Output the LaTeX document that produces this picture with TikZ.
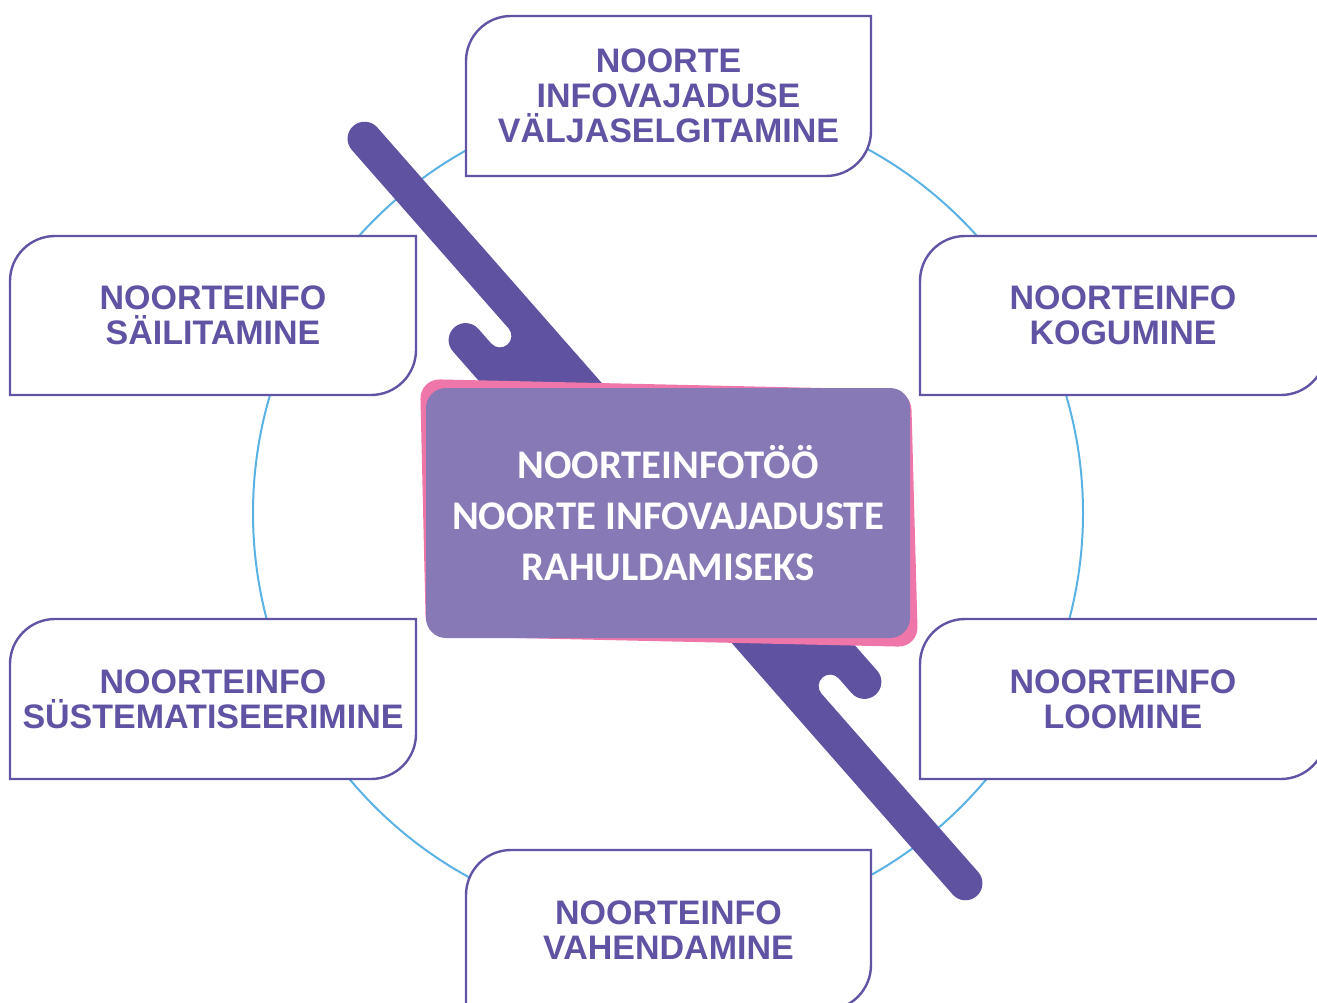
\documentclass[tikz,border=0pt]{standalone}
\usepackage{fontspec}
\setmainfont{Liberation Sans}
\newfontfamily\calibfont{Carlito}
\definecolor{bandcol}{RGB}{95,82,160}
\definecolor{boxcol}{RGB}{98,84,164}
\definecolor{txtcol}{RGB}{96,83,163}
\definecolor{centerfill}{RGB}{134,121,181}
\definecolor{pinkcol}{RGB}{238,118,168}
\definecolor{ringcol}{RGB}{90,178,228}
\tikzset{
  leaf/.style={draw=boxcol, line width=2.4pt, fill=white},
  leaftext/.style={text=txtcol, font=\fontsize{34}{35}\selectfont\bfseries, align=center, inner sep=0pt},
  ring/.style={draw=ringcol, line width=2pt},
  centerbox/.style={fill=centerfill, rounded corners=20pt, minimum width=484pt, minimum height=250pt,
     text=white, align=center, inner sep=0pt, font=\calibfont\bfseries\fontsize{40.7}{51}\selectfont},
}
\newcommand\leafbox[6]{%
  \draw[leaf] (#1,#4) -- (#1,{#2+45}) .. controls (#1,{#2+20.15}) and ({#1+20.15},#2) .. ({#1+45},#2)
     -- (#3,#2) -- (#3,{#4-45}) .. controls (#3,{#4-20.15}) and ({#3-20.15},#4) .. ({#3-45},#4) -- cycle;
  \node[leaftext] (#6) at ({(#1+#3)/2},{(#2+#4)/2}) {#5};
}
\begin{document}
\begin{tikzpicture}[x=1pt,y=-1pt]
\useasboundingbox (0,0) rectangle (1317,1003);
\clip (0,0) rectangle (1317,1003);
% ring
\draw[ring] (668,513) circle[radius=415];
% outer boxes
\leafbox{466}{16}{871}{176}{NOORTE\\INFOVAJADUSE\\VÄLJASELGITAMINE}{top}
\leafbox{10}{236}{416}{395}{NOORTEINFO\\SÄILITAMINE}{lefttop}
\leafbox{920}{236}{1326}{395}{NOORTEINFO\\KOGUMINE}{righttop}
\leafbox{10}{619}{416}{779}{NOORTEINFO\\SÜSTEMATISEERIMINE}{leftbottom}
\leafbox{920}{619}{1326}{779}{NOORTEINFO\\LOOMINE}{rightbottom}
\leafbox{466}{850}{871}{1010}{NOORTEINFO\\VAHENDAMINE}{bottom}
% diagonal band
\begin{scope}[shift={(665,511)}, rotate=-48.7]
\fill[bandcol] (0,-37) -- (-478,-37)
  .. controls (-487.39,-37) and (-495,-29.39) .. (-495,-20)
  .. controls (-495,-10.61) and (-487.39,-3) .. (-478,-3)
  -- (-240.5,-3)
  .. controls (-234.15,-3) and (-229,2.15) .. (-229,8.5)
  .. controls (-229,14.85) and (-234.15,20) .. (-240.5,20)
  -- (-260,20)
  .. controls (-269.39,20) and (-277,27.61) .. (-277,37)
  .. controls (-277,46.39) and (-269.39,54) .. (-260,54)
  -- (0,54) -- (0,37) -- (478,37)
  .. controls (487.39,37) and (495,29.39) .. (495,20)
  .. controls (495,10.61) and (487.39,3) .. (478,3)
  -- (240.5,3)
  .. controls (234.15,3) and (229,-2.15) .. (229,-8.5)
  .. controls (229,-14.85) and (234.15,-20) .. (240.5,-20)
  -- (260,-20)
  .. controls (269.39,-20) and (277,-27.61) .. (277,-37)
  .. controls (277,-46.39) and (269.39,-54) .. (260,-54)
  -- (0,-54) -- cycle;
\end{scope}
% pink tilted backing
\fill[pinkcol, rounded corners=20pt] (420,379) -- (911,390) -- (918,647) -- (426,636) -- cycle;
% center box
\node[centerbox] (center) at (668,513) {NOORTEINFOTÖÖ\\NOORTE INFOVAJADUSTE\\RAHULDAMISEKS};
\end{tikzpicture}
\end{document}
